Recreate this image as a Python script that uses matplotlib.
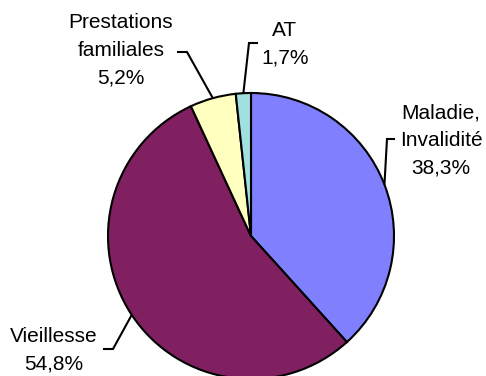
import numpy as np
import matplotlib
matplotlib.use("Agg")
import matplotlib.pyplot as plt

# data (start at 12 o'clock, clockwise)
labels = ["Maladie,\nInvalidité", "Vieillesse", "Prestations\nfamiliales", "AT"]
shares = [38.3, 54.8, 5.2, 1.7]
colors = ["#8080FF", "#802060", "#FFFFC0", "#A0E0E0"]

# label layout in pixel coords (x centre, baseline of last line), elbow points of the leader line
label_pos = [(441, 173), (54, 369), (121, 83), (285, 63)]
elbows = [
    [(387, 139), (395, 139)],
    [(113, 349), (103, 349)],
    [(187, 52), (177, 52)],
    [(249, 43), (258, 43)],
]

W, H = 486, 376
cx, cy, r = 251, 236, 143

plt.rcParams["font.family"] = ["Liberation Sans", "DejaVu Sans"]

fig = plt.figure(figsize=(W / 100, H / 100), dpi=100)
ax = fig.add_axes([0, 0, 1, 1])

# with y inverted, counterclock in data = clockwise on screen
ax.pie(shares, colors=colors, startangle=-90, counterclock=True,
       center=(cx, cy), radius=r, frame=True,
       wedgeprops=dict(edgecolor="black", linewidth=1.5))
ax.set_xlim(0, W)
ax.set_ylim(H, 0)  # pixel coords, y down
ax.set_aspect("equal")
ax.axis("off")

cum = np.cumsum([0] + shares)
total = cum[-1]
for i, lab in enumerate(labels):
    mid = np.deg2rad(-90 + 360 * (cum[i] + shares[i] / 2) / total)
    x0 = cx + r * np.cos(mid)
    y0 = cy + r * np.sin(mid)
    pts = [(x0, y0)] + elbows[i]
    ax.plot([p[0] for p in pts], [p[1] for p in pts], color="black",
            lw=1.5, solid_capstyle="butt", solid_joinstyle="miter", clip_on=False)
    txt = f"{lab}\n{shares[i]:.1f}%".replace(".", ",")
    ax.text(label_pos[i][0], label_pos[i][1], txt, ha="center", va="baseline",
            multialignment="center", fontsize=15, linespacing=1.55)

fig.savefig("out.png", dpi=100)
